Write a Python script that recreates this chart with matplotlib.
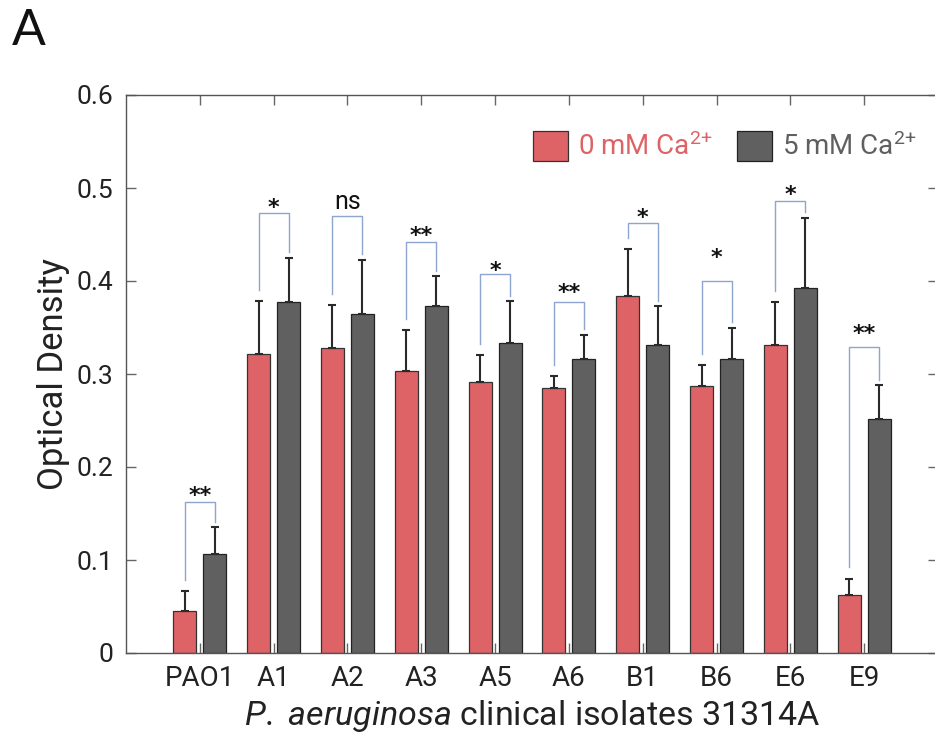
import matplotlib
matplotlib.use("Agg")
import matplotlib.pyplot as plt
import numpy as np

# Isolates and optical density measurements
isolates = ["PAO1", "A1", "A2", "A3", "A5", "A6", "B1", "B6", "E6", "E9"]
od_ca0 = [0.045, 0.322, 0.328, 0.303, 0.291, 0.285, 0.384, 0.287, 0.331, 0.062]
sd_ca0 = [0.022, 0.056, 0.046, 0.044, 0.029, 0.013, 0.050, 0.023, 0.046, 0.018]
od_ca5 = [0.106, 0.377, 0.364, 0.373, 0.333, 0.316, 0.331, 0.316, 0.392, 0.252]
sd_ca5 = [0.029, 0.048, 0.059, 0.032, 0.045, 0.026, 0.042, 0.034, 0.076, 0.036]

# Significance annotations: label, bracket top, label height
sig_labels = ["**", "*", "ns", "**", "*", "**", "*", "*", "*", "**"]
bracket_top = [0.162, 0.473, 0.470, 0.442, 0.4075, 0.377, 0.462, 0.400, 0.486, 0.329]
label_y = [0.175, 0.484, 0.485, 0.454, 0.417, 0.3935, 0.474, 0.431, 0.498, 0.349]

yticks = [0, 0.1, 0.2, 0.3, 0.4, 0.5, 0.6]

RED = "#DE6366"
GREY = "#606060"
BRACKET = "#8EA6CF"
FONT = ["Roboto", "DejaVu Sans"]
plt.rcParams["font.family"] = FONT
plt.rcParams["mathtext.fontset"] = "custom"
plt.rcParams["mathtext.rm"] = "Roboto"
plt.rcParams["mathtext.it"] = "Roboto:italic"
plt.rcParams["mathtext.bf"] = "Roboto:bold"

W, H = 935, 740
fig = plt.figure(figsize=(W / 100, H / 100), dpi=100)
ax = fig.add_axes([126 / W, 1 - 653 / H, 812 / W, (653 - 95) / H])

x = np.arange(1, len(isolates) + 1)
off = 0.203
bw = 0.31

ax.bar(x - off, od_ca0, width=bw, color=RED, edgecolor="#333333", linewidth=0.9,
       label="0 mM Ca$^{\\text{2+}}$", zorder=2)
ax.bar(x + off, od_ca5, width=bw, color=GREY, edgecolor="#222222", linewidth=0.9,
       label="5 mM Ca$^{\\text{2+}}$", zorder=2)

zeros = np.zeros(len(isolates))
ax.errorbar(x - off, od_ca0, yerr=[zeros, sd_ca0], fmt="none", ecolor="#2a2a2a",
            elinewidth=1.5, capsize=3, capthick=1.5, zorder=3)
ax.errorbar(x + off, od_ca5, yerr=[zeros, sd_ca5], fmt="none", ecolor="#2a2a2a",
            elinewidth=1.5, capsize=3, capthick=1.5, zorder=3)

# Significance brackets between paired bars
for i in range(len(isolates)):
    left_end = od_ca0[i] + sd_ca0[i] + 0.012
    right_end = od_ca5[i] + sd_ca5[i] + 0.006
    ax.plot([x[i] - off, x[i] - off, x[i] + off, x[i] + off],
            [left_end, bracket_top[i], bracket_top[i], right_end],
            color=BRACKET, linewidth=1.0, zorder=4)
    if sig_labels[i] == "ns":
        ax.text(x[i], label_y[i], "ns", ha="center", va="center", fontsize=18,
                color="#111111")
    else:
        ax.text(x[i], label_y[i] - 0.006, sig_labels[i], ha="center", va="center",
                fontsize=16, fontweight="bold", color="#111111",
                family=["DejaVu Sans"])

ax.set_xlim(0, 11)
ax.set_ylim(0, 0.6)
ax.set_xticks(x)
ax.set_xticklabels(isolates)
ax.set_yticks(yticks)
ax.set_yticklabels(["0" if v == 0 else f"{v:.1f}" for v in yticks])

for s in ax.spines.values():
    s.set_color("#555555")
    s.set_linewidth(1.0)
ax.tick_params(direction="in", length=7, width=1.0, color="#666666",
               top=True, right=True, labelcolor="#222222")
ax.tick_params(axis="y", pad=9, labelsize=19)
ax.tick_params(axis="x", pad=9, labelsize=20)

ax.set_ylabel("Optical Density", fontsize=25, color="#222222", labelpad=5)
ax.set_xlabel("$\\mathit{P.}$ $\\mathit{aeruginosa}$ clinical isolates 31314A",
              fontsize=24.5, color="#222222", labelpad=4)

leg = ax.legend(loc="upper right", bbox_to_anchor=(0.987, 0.955), ncol=2,
                frameon=False, fontsize=20, handlelength=1.25, handleheight=1.25,
                handletextpad=0.35, columnspacing=0.9, borderaxespad=0)
for txt, c in zip(leg.get_texts(), [RED, GREY]):
    txt.set_color(c)

fig.text(12 / W, 1 - 45 / H, "A", fontsize=36, family=["Lato", "DejaVu Sans"],
         color="#111111", ha="left", va="baseline")

fig.savefig("out.png", dpi=100)
